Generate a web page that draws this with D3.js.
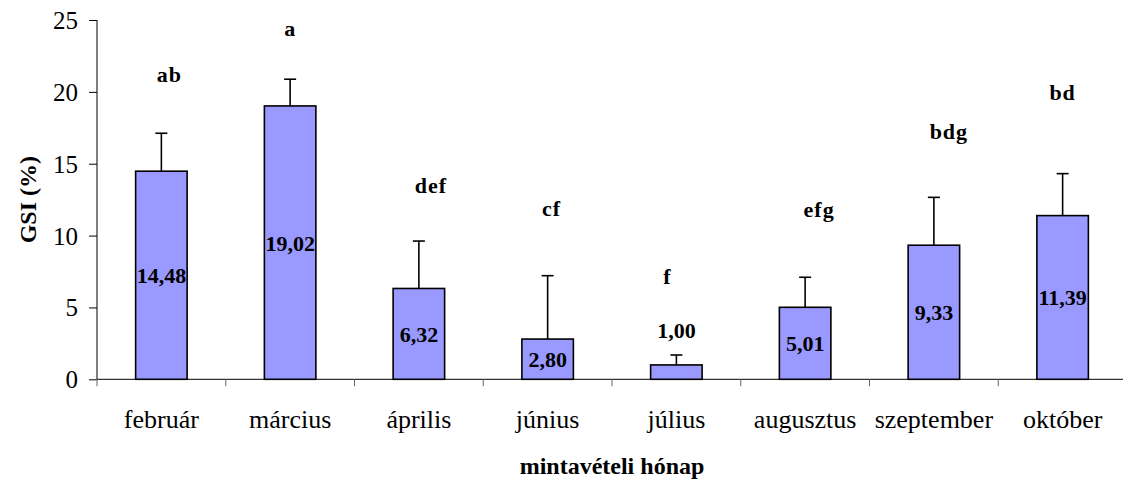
<!DOCTYPE html>
<html>
<head>
<meta charset="utf-8">
<script src="https://cdn.jsdelivr.net/npm/d3@7"></script>
<style>
  html, body { margin: 0; padding: 0; background: #fff; }
  svg { display: block; }
</style>
</head>
<body>
<svg id="chart" width="1123" height="479" font-family="Liberation Serif"></svg>
<script>
// Sampling months, mean GSI (%), standard deviation and significance groups
const months = ["február", "március", "április", "június", "július", "augusztus", "szeptember", "október"];
const gsiMean = [14.48, 19.02, 6.32, 2.80, 1.00, 5.01, 9.33, 11.39];
const gsiSd = [2.64, 1.86, 3.30, 4.41, 0.69, 2.09, 3.33, 2.92];
const groups = ["ab", "a", "def", "cf", "f", "efg", "bdg", "bd"];
const groupLevel = [20.7, 23.9, 12.96, 11.33, 6.63, 11.3, 16.7, 19.4];
const yTicks = [0, 5, 10, 15, 20, 25];

// Layout
const FONT = "Liberation Serif";
const groupNudge = [8, 0, 12, 4, -9, 14, 15, 0];
const margin = { left: 97, top: 20, right: 1127, bottom: 379.3 };

const svg = d3.select("#chart");

const x = d3.scaleBand()
  .domain(months)
  .range([margin.left, margin.right])
  .paddingInner(0.6)
  .paddingOuter(0.3);

const y = d3.scaleLinear()
  .domain([0, 25])
  .range([margin.bottom, margin.top]);

const fmt = v => d3.format(".2f")(v).replace(".", ",");

// Y axis
const yAxis = svg.append("g")
  .attr("transform", `translate(${margin.left},0)`)
  .call(d3.axisLeft(y).tickValues(yTicks).tickSize(8).tickPadding(11).tickFormat(d3.format("d")));
yAxis.attr("font-family", FONT).attr("font-size", 25);
yAxis.select(".domain").attr("stroke", "#000").attr("stroke-width", 1).attr("d", `M0,${margin.top}V${margin.bottom}`);
yAxis.selectAll(".tick line").attr("stroke", "#000");
yAxis.selectAll(".tick text")
  .attr("font-family", FONT)
  .attr("font-size", 25)
  .attr("fill", "#000")
  .attr("dy", "0.34em");

// X axis: ticks on category boundaries
const step = x.step();
const boundaries = d3.range(months.length + 1).map(i => margin.left + i * step);
const xg = svg.append("g");
xg.append("line")
  .attr("x1", margin.left).attr("x2", margin.right)
  .attr("y1", y(0)).attr("y2", y(0))
  .attr("stroke", "#000").attr("stroke-width", 1);
xg.selectAll("line.tick")
  .data(boundaries)
  .join("line")
  .attr("class", "tick")
  .attr("x1", d => d).attr("x2", d => d)
  .attr("y1", y(0)).attr("y2", y(0) + 7)
  .attr("stroke", "#666").attr("stroke-width", 1);
xg.selectAll("text.cat")
  .data(months)
  .join("text")
  .attr("class", "cat")
  .attr("x", d => x(d) + x.bandwidth() / 2)
  .attr("y", 428)
  .attr("text-anchor", "middle")
  .attr("font-family", FONT)
  .attr("font-size", 26)
  .text(d => d);

// Bars
const data = months.map((m, i) => ({ m, v: gsiMean[i], sd: gsiSd[i], g: groups[i], lvl: groupLevel[i], nudge: groupNudge[i] }));

// Error bars (upper only)
const eb = svg.append("g").attr("stroke", "#000").attr("stroke-width", 1.6);
data.forEach(d => {
  const cx = x(d.m) + x.bandwidth() / 2;
  eb.append("line").attr("x1", cx).attr("x2", cx).attr("y1", y(d.v)).attr("y2", y(d.v + d.sd));
  eb.append("line").attr("x1", cx - 6).attr("x2", cx + 6).attr("y1", y(d.v + d.sd)).attr("y2", y(d.v + d.sd));
});

svg.append("g")
  .selectAll("rect")
  .data(data)
  .join("rect")
  .attr("x", d => x(d.m))
  .attr("y", d => y(d.v))
  .attr("width", x.bandwidth())
  .attr("height", d => y(0) - y(d.v))
  .attr("fill", "#9999ff")
  .attr("stroke", "#000")
  .attr("stroke-width", 1.6);

// Value labels: centred in the bar, or above the error bar when the bar is too short
svg.append("g")
  .selectAll("text")
  .data(data)
  .join("text")
  .attr("x", d => x(d.m) + x.bandwidth() / 2)
  .attr("y", d => {
    const h = y(0) - y(d.v);
    if (h < 26) return y(d.v + d.sd) - 17;
    return (y(0) + y(d.v)) / 2 + 8;
  })
  .attr("text-anchor", "middle")
  .attr("font-family", FONT)
  .attr("font-size", 22)
  .attr("font-weight", "bold")
  .text(d => fmt(d.v));

// Significance letters
svg.append("g")
  .selectAll("text")
  .data(data)
  .join("text")
  .attr("x", d => x(d.m) + x.bandwidth() / 2 + d.nudge)
  .attr("y", d => y(d.lvl))
  .attr("text-anchor", "middle")
  .attr("font-family", FONT)
  .attr("font-size", 22)
  .attr("font-weight", "bold")
  .attr("letter-spacing", 1)
  .text(d => d.g);

// Axis titles
svg.append("text")
  .attr("transform", `translate(36,${(margin.top + margin.bottom) / 2}) rotate(-90)`)
  .attr("text-anchor", "middle")
  .attr("font-family", FONT)
  .attr("font-size", 24)
  .attr("font-weight", "bold")
  .text("GSI (%)");

svg.append("text")
  .attr("x", (margin.left + margin.right) / 2)
  .attr("y", 474)
  .attr("text-anchor", "middle")
  .attr("font-family", FONT)
  .attr("font-size", 24)
  .attr("font-weight", "bold")
  .text("mintavételi hónap");
</script>
</body>
</html>
